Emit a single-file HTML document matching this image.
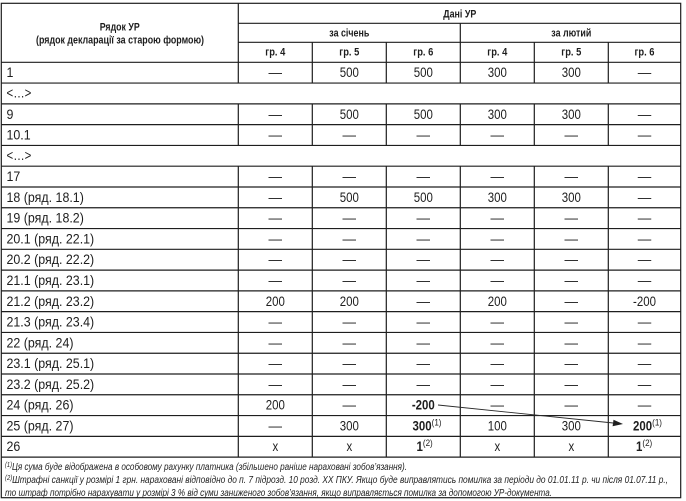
<!DOCTYPE html>
<html><head><meta charset="utf-8"><style>
html,body{margin:0;padding:0;background:#fff;}
svg{display:block;}
.t{font-family:"Liberation Sans","Noto Sans CJK SC",sans-serif;font-size:13.5px;fill:#1e1e1e;}
.b{font-weight:bold;}
.h{font-family:"Liberation Sans","Noto Sans CJK SC",sans-serif;font-size:11px;font-weight:bold;fill:#1e1e1e;}
.f{font-family:"Liberation Sans","Noto Sans CJK SC",sans-serif;font-size:10px;font-style:italic;fill:#1e1e1e;}
</style></head><body>
<svg width="686" height="501" viewBox="0 0 686 501" xmlns="http://www.w3.org/2000/svg">
<rect x="0" y="0" width="686" height="501" fill="#fff"/>
<g stroke="#1e1e1e" stroke-width="1.2" fill="none">
<rect x="1.3" y="3.3" width="679.4" height="494.4"/>
<line x1="238.3" y1="23.3" x2="680.7" y2="23.3"/>
<line x1="238.3" y1="42.3" x2="680.7" y2="42.3"/>
<line x1="238.3" y1="3.3" x2="238.3" y2="62.3"/>
<line x1="460.3" y1="23.3" x2="460.3" y2="62.3"/>
<line x1="312.3" y1="42.3" x2="312.3" y2="62.3"/>
<line x1="386.3" y1="42.3" x2="386.3" y2="62.3"/>
<line x1="534.3" y1="42.3" x2="534.3" y2="62.3"/>
<line x1="608.3" y1="42.3" x2="608.3" y2="62.3"/>
<line x1="1.3" y1="62.3" x2="680.7" y2="62.3"/>
<line x1="1.3" y1="83.08" x2="680.7" y2="83.08"/>
<line x1="1.3" y1="103.86" x2="680.7" y2="103.86"/>
<line x1="1.3" y1="124.64" x2="680.7" y2="124.64"/>
<line x1="1.3" y1="145.42" x2="680.7" y2="145.42"/>
<line x1="1.3" y1="166.2" x2="680.7" y2="166.2"/>
<line x1="1.3" y1="186.98" x2="680.7" y2="186.98"/>
<line x1="1.3" y1="207.76" x2="680.7" y2="207.76"/>
<line x1="1.3" y1="228.54" x2="680.7" y2="228.54"/>
<line x1="1.3" y1="249.32" x2="680.7" y2="249.32"/>
<line x1="1.3" y1="270.1" x2="680.7" y2="270.1"/>
<line x1="1.3" y1="290.88" x2="680.7" y2="290.88"/>
<line x1="1.3" y1="311.66" x2="680.7" y2="311.66"/>
<line x1="1.3" y1="332.44" x2="680.7" y2="332.44"/>
<line x1="1.3" y1="353.22" x2="680.7" y2="353.22"/>
<line x1="1.3" y1="374" x2="680.7" y2="374"/>
<line x1="1.3" y1="394.78" x2="680.7" y2="394.78"/>
<line x1="1.3" y1="415.56" x2="680.7" y2="415.56"/>
<line x1="1.3" y1="436.34" x2="680.7" y2="436.34"/>
<line x1="1.3" y1="457.12" x2="680.7" y2="457.12"/>
<path d="M238.3 62.3V83.08M312.3 62.3V83.08M386.3 62.3V83.08M460.3 62.3V83.08M534.3 62.3V83.08M608.3 62.3V83.08"/>
<path d="M238.3 103.86V145.42M312.3 103.86V145.42M386.3 103.86V145.42M460.3 103.86V145.42M534.3 103.86V145.42M608.3 103.86V145.42"/>
<path d="M238.3 166.2V457.12M312.3 166.2V457.12M386.3 166.2V457.12M460.3 166.2V457.12M534.3 166.2V457.12M608.3 166.2V457.12"/>
</g>

<text class="h" x="119.7" y="30.5" text-anchor="middle" textLength="40" lengthAdjust="spacingAndGlyphs">Рядок УР</text>
<text class="h" x="120" y="43.5" text-anchor="middle" textLength="168" lengthAdjust="spacingAndGlyphs">(рядок декларації за старою формою)</text>
<text class="h" x="459.8" y="17.5" text-anchor="middle" textLength="33" lengthAdjust="spacingAndGlyphs">Дані УР</text>
<text class="h" x="349.3" y="36.5" text-anchor="middle" textLength="40" lengthAdjust="spacingAndGlyphs">за січень</text>
<text class="h" x="571.3" y="36.5" text-anchor="middle" textLength="40" lengthAdjust="spacingAndGlyphs">за лютий</text>
<text class="h" x="275.3" y="55.5" text-anchor="middle" textLength="20" lengthAdjust="spacingAndGlyphs">гр. 4</text>
<text class="h" x="349.3" y="55.5" text-anchor="middle" textLength="20" lengthAdjust="spacingAndGlyphs">гр. 5</text>
<text class="h" x="423.3" y="55.5" text-anchor="middle" textLength="20" lengthAdjust="spacingAndGlyphs">гр. 6</text>
<text class="h" x="497.3" y="55.5" text-anchor="middle" textLength="20" lengthAdjust="spacingAndGlyphs">гр. 4</text>
<text class="h" x="571.3" y="55.5" text-anchor="middle" textLength="20" lengthAdjust="spacingAndGlyphs">гр. 5</text>
<text class="h" x="644.5" y="55.5" text-anchor="middle" textLength="20" lengthAdjust="spacingAndGlyphs">гр. 6</text>

<g class="t">
<text transform="translate(6.5,77.2) scale(.92,1)">1</text>
<text transform="translate(6.5,97.5) scale(.85,1)">&lt;…&gt;</text>
<text transform="translate(6.5,118.8) scale(.92,1)">9</text>
<text transform="translate(6.5,139.5) scale(.92,1)">10.1</text>
<text transform="translate(6.5,159.8) scale(.85,1)">&lt;…&gt;</text>
<text transform="translate(6.5,181.1) scale(.92,1)">17</text>
<text transform="translate(6.5,201.9) scale(.92,1)">18 (ряд. 18.1)</text>
<text transform="translate(6.5,222.7) scale(.92,1)">19 (ряд. 18.2)</text>
<text transform="translate(6.5,243.4) scale(.92,1)">20.1 (ряд. 22.1)</text>
<text transform="translate(6.5,264.2) scale(.92,1)">20.2 (ряд. 22.2)</text>
<text transform="translate(6.5,285.0) scale(.92,1)">21.1 (ряд. 23.1)</text>
<text transform="translate(6.5,305.8) scale(.92,1)">21.2 (ряд. 23.2)</text>
<text transform="translate(6.5,326.6) scale(.92,1)">21.3 (ряд. 23.4)</text>
<text transform="translate(6.5,347.3) scale(.92,1)">22 (ряд. 24)</text>
<text transform="translate(6.5,368.1) scale(.92,1)">23.1 (ряд. 25.1)</text>
<text transform="translate(6.5,388.9) scale(.92,1)">23.2 (ряд. 25.2)</text>
<text transform="translate(6.5,409.7) scale(.92,1)">24 (ряд. 26)</text>
<text transform="translate(6.5,430.5) scale(.92,1)">25 (ряд. 27)</text>
<text transform="translate(6.5,451.2) scale(.92,1)">26</text>
</g>

<g class="t" text-anchor="middle">
<text transform="translate(275.3,77.2)">—</text>
<text transform="translate(349.3,77.2) scale(.85,1)">500</text>
<text transform="translate(423.3,77.2) scale(.85,1)">500</text>
<text transform="translate(497.3,77.2) scale(.85,1)">300</text>
<text transform="translate(571.3,77.2) scale(.85,1)">300</text>
<text transform="translate(644.5,77.2)">—</text>

<text transform="translate(275.3,118.8)">—</text>
<text transform="translate(349.3,118.8) scale(.85,1)">500</text>
<text transform="translate(423.3,118.8) scale(.85,1)">500</text>
<text transform="translate(497.3,118.8) scale(.85,1)">300</text>
<text transform="translate(571.3,118.8) scale(.85,1)">300</text>
<text transform="translate(644.5,118.8)">—</text>

<text transform="translate(275.3,139.5)">—</text>
<text transform="translate(349.3,139.5)">—</text>
<text transform="translate(423.3,139.5)">—</text>
<text transform="translate(497.3,139.5)">—</text>
<text transform="translate(571.3,139.5)">—</text>
<text transform="translate(644.5,139.5)">—</text>

<text transform="translate(275.3,181.1)">—</text>
<text transform="translate(349.3,181.1)">—</text>
<text transform="translate(423.3,181.1)">—</text>
<text transform="translate(497.3,181.1)">—</text>
<text transform="translate(571.3,181.1)">—</text>
<text transform="translate(644.5,181.1)">—</text>

<text transform="translate(275.3,201.9)">—</text>
<text transform="translate(349.3,201.9) scale(.85,1)">500</text>
<text transform="translate(423.3,201.9) scale(.85,1)">500</text>
<text transform="translate(497.3,201.9) scale(.85,1)">300</text>
<text transform="translate(571.3,201.9) scale(.85,1)">300</text>
<text transform="translate(644.5,201.9)">—</text>

<text transform="translate(275.3,222.7)">—</text>
<text transform="translate(349.3,222.7)">—</text>
<text transform="translate(423.3,222.7)">—</text>
<text transform="translate(497.3,222.7)">—</text>
<text transform="translate(571.3,222.7)">—</text>
<text transform="translate(644.5,222.7)">—</text>

<text transform="translate(275.3,243.4)">—</text>
<text transform="translate(349.3,243.4)">—</text>
<text transform="translate(423.3,243.4)">—</text>
<text transform="translate(497.3,243.4)">—</text>
<text transform="translate(571.3,243.4)">—</text>
<text transform="translate(644.5,243.4)">—</text>

<text transform="translate(275.3,264.2)">—</text>
<text transform="translate(349.3,264.2)">—</text>
<text transform="translate(423.3,264.2)">—</text>
<text transform="translate(497.3,264.2)">—</text>
<text transform="translate(571.3,264.2)">—</text>
<text transform="translate(644.5,264.2)">—</text>

<text transform="translate(275.3,285.0)">—</text>
<text transform="translate(349.3,285.0)">—</text>
<text transform="translate(423.3,285.0)">—</text>
<text transform="translate(497.3,285.0)">—</text>
<text transform="translate(571.3,285.0)">—</text>
<text transform="translate(644.5,285.0)">—</text>

<text transform="translate(275.3,305.8) scale(.85,1)">200</text>
<text transform="translate(349.3,305.8) scale(.85,1)">200</text>
<text transform="translate(423.3,305.8)">—</text>
<text transform="translate(497.3,305.8) scale(.85,1)">200</text>
<text transform="translate(571.3,305.8)">—</text>
<text transform="translate(644.5,305.8) scale(.85,1)">-200</text>

<text transform="translate(275.3,326.6)">—</text>
<text transform="translate(349.3,326.6)">—</text>
<text transform="translate(423.3,326.6)">—</text>
<text transform="translate(497.3,326.6)">—</text>
<text transform="translate(571.3,326.6)">—</text>
<text transform="translate(644.5,326.6)">—</text>

<text transform="translate(275.3,347.3)">—</text>
<text transform="translate(349.3,347.3)">—</text>
<text transform="translate(423.3,347.3)">—</text>
<text transform="translate(497.3,347.3)">—</text>
<text transform="translate(571.3,347.3)">—</text>
<text transform="translate(644.5,347.3)">—</text>

<text transform="translate(275.3,368.1)">—</text>
<text transform="translate(349.3,368.1)">—</text>
<text transform="translate(423.3,368.1)">—</text>
<text transform="translate(497.3,368.1)">—</text>
<text transform="translate(571.3,368.1)">—</text>
<text transform="translate(644.5,368.1)">—</text>

<text transform="translate(275.3,388.9)">—</text>
<text transform="translate(349.3,388.9)">—</text>
<text transform="translate(423.3,388.9)">—</text>
<text transform="translate(497.3,388.9)">—</text>
<text transform="translate(571.3,388.9)">—</text>
<text transform="translate(644.5,388.9)">—</text>

<text transform="translate(275.3,409.7) scale(.85,1)">200</text>
<text transform="translate(349.3,409.7)">—</text>
<text class="b" transform="translate(423.3,409.7) scale(.85,1)">-200</text>
<text transform="translate(497.3,409.7)">—</text>
<text transform="translate(571.3,409.7)">—</text>
<text transform="translate(644.5,409.7)">—</text>

<text transform="translate(275.3,430.5)">—</text>
<text transform="translate(349.3,430.5) scale(.85,1)">300</text>
<text transform="translate(497.3,430.5) scale(.85,1)">100</text>
<text transform="translate(571.3,430.5) scale(.85,1)">300</text>

<text transform="translate(275.3,451.2) scale(.85,1)">x</text>
<text transform="translate(349.3,451.2) scale(.85,1)">x</text>
<text transform="translate(497.3,451.2) scale(.85,1)">x</text>
<text transform="translate(571.3,451.2) scale(.85,1)">x</text>
</g>

<g class="t">
<text class="b" transform="translate(412.5,430.5) scale(.85,1)">300<tspan font-size="9.5" font-weight="normal" dy="-5">(1)</tspan></text>
<text class="b" transform="translate(633,430.5) scale(.85,1)">200<tspan font-size="9.5" font-weight="normal" dy="-5">(1)</tspan></text>
<text class="b" transform="translate(416.5,451.2) scale(.85,1)">1<tspan font-size="9.5" font-weight="normal" dy="-5">(2)</tspan></text>
<text class="b" transform="translate(636,451.2) scale(.85,1)">1<tspan font-size="9.5" font-weight="normal" dy="-5">(2)</tspan></text>
</g>

<line x1="438" y1="405" x2="613.2" y2="423" stroke="#2a2a2a" stroke-width="0.9"/>
<polygon points="623,424 612.6,426.2 613.5,419.8" fill="#1e1e1e"/>

<text class="f" x="5" y="469.8" textLength="402" lengthAdjust="spacingAndGlyphs"><tspan font-size="7" dy="-3">(1)</tspan><tspan dy="3">Ця сума буде відображена в особовому рахунку платника (збільшено раніше нараховані зобов’язання).</tspan></text>
<text class="f" x="5" y="483.2" textLength="663" lengthAdjust="spacingAndGlyphs"><tspan font-size="7" dy="-3">(2)</tspan><tspan dy="3">Штрафні санкції у розмірі 1 грн. нараховані відповідно до п. 7 підрозд. 10 розд. ХХ ПКУ. Якщо буде виправлятись помилка за періоди до 01.01.11 р. чи після 01.07.11 р.,</tspan></text>
<text class="f" x="5" y="496" textLength="547" lengthAdjust="spacingAndGlyphs">то штраф потрібно нарахувати у розмірі 3 % від суми заниженого зобов’язання, якщо виправляється помилка за допомогою УР-документа.</text>
</svg>
</body></html>
